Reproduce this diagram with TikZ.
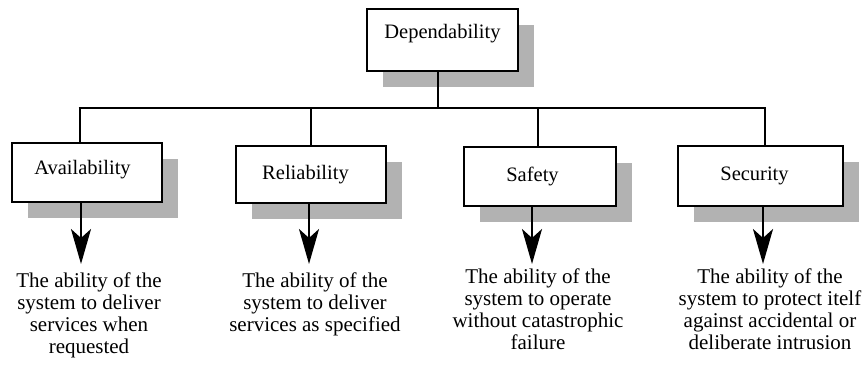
\documentclass[tikz,border=0pt]{standalone}
\usepackage{fontspec}
\setmainfont{Liberation Serif}
\usetikzlibrary{arrows.meta,shadows}
\definecolor{shadowgray}{RGB}{178,178,178}
% label set slightly off-centre: #1 raise, #2 extra room on the right
\newcommand{\boxlabel}[3]{\raisebox{#1}[\height][\depth]{#3}\kern#2}
\tikzset{
  attrbox/.style={draw=black, line width=2.6pt, fill=white,
    minimum width=150pt, minimum height=59pt, inner sep=0pt,
    font=\fontsize{20.5}{24}\selectfont,
    drop shadow={shadow xshift=16pt, shadow yshift=-16pt,
      fill=shadowgray, opacity=1, draw=none}},
  link/.style={line width=2.6pt},
  down/.style={line width=2.6pt,
    -{Stealth[length=35pt, width=20pt, inset=9pt]}},
  desc/.style={anchor=north, align=center, inner sep=0pt,
    font=\fontsize{21}{22}\selectfont}
}
\begin{document}
\begin{tikzpicture}[x=1pt, y=-1pt]
  \useasboundingbox (0,0) rectangle (866,365);

  % top-level box
  \node[attrbox, minimum width=151pt, minimum height=62pt] (dep) at (442.5,40)
    {\boxlabel{6pt}{0pt}{Dependability}};

  % attribute boxes
  \node[attrbox] (av)  at (87,172.5)  {\boxlabel{3pt}{9pt}{Availability}};
  \node[attrbox, minimum height=57pt] (rel) at (311,174.5) {\boxlabel{0pt}{11pt}{Reliability}};
  \node[attrbox, minimum width=152pt] (saf) at (540,176.5) {\boxlabel{0pt}{15pt}{Safety}};
  \node[attrbox, minimum width=165pt, minimum height=60pt] (sec) at (760.5,176) {\boxlabel{0pt}{12pt}{Security}};

  % bus junctions
  \coordinate (j0) at (438,108);
  \coordinate (j1) at (80,108);
  \coordinate (j2) at (311,108);
  \coordinate (j3) at (538,108);
  \coordinate (j4) at (765,108);

  % tree connectors
  \draw[link] (j0 |- dep.south) -- (j0);
  \draw[link] ([xshift=-1.3pt]j1) -- ([xshift=1.3pt]j4);
  \draw[link] (j1) -- (j1 |- av.north);
  \draw[link] (j2) -- (j2 |- rel.north);
  \draw[link] (j3) -- (j3 |- saf.north);
  \draw[link] (j4) -- (j4 |- sec.north);

  % arrow tips below each box
  \coordinate (t1) at (81,264);
  \coordinate (t2) at (309,264);
  \coordinate (t3) at (532,264);
  \coordinate (t4) at (763,264);
  \draw[down] (t1 |- av.south)  -- (t1);
  \draw[down] (t2 |- rel.south) -- (t2);
  \draw[down] (t3 |- saf.south) -- (t3);
  \draw[down] (t4 |- sec.south) -- (t4);

  % descriptions
  \node[desc] (d1) at (89,273)  {The ability of the\\system to deliver\\services when\\requested};
  \node[desc] (d2) at (315,273) {The ability of the\\system to deliver\\services as specified};
  \node[desc] (d3) at (538,269) {The ability of the\\system to operate\\without catastrophic\\failure};
  \node[desc] (d4) at (770,269) {The ability of the\\system to protect itelf\\against accidental or\\deliberate intrusion};
\end{tikzpicture}
\end{document}
